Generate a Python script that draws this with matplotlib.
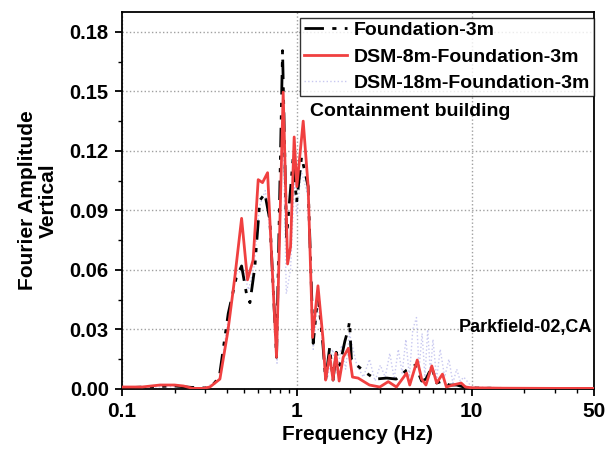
import matplotlib
matplotlib.use("Agg")
import matplotlib.pyplot as plt
from matplotlib.ticker import FixedLocator, NullFormatter, MultipleLocator

plt.rcParams["font.family"] = ["Liberation Sans", "DejaVu Sans"]
plt.rcParams["font.weight"] = "bold"

# Foundation-3m (black dash-dot-dot)
f_found = [0.1, 0.15, 0.2, 0.25, 0.3, 0.33, 0.36, 0.405, 0.45, 0.483, 0.515, 0.539, 0.575,
           0.614, 0.656, 0.701, 0.765, 0.828, 0.873, 0.953, 0.996, 1.064, 1.16, 1.24, 1.32,
           1.41, 1.46, 1.54, 1.61, 1.68, 1.76, 1.88, 1.97, 2.0, 2.05, 2.2, 2.5, 2.8, 3.27,
           3.7, 4.24, 4.75, 5.17, 5.47, 5.9, 6.3, 6.8, 7.4, 8.2, 9.0, 10.0, 15.0, 30.0, 50.0]
a_found = [0.0005, 0.0012, 0.0015, 0.0008, 0.0005, 0.002, 0.006, 0.038, 0.056, 0.062, 0.048,
           0.0435, 0.0615, 0.095, 0.0985, 0.085, 0.016, 0.1705, 0.0766, 0.117, 0.094, 0.117,
           0.102, 0.023, 0.048, 0.022, 0.0045, 0.021, 0.0045, 0.0185, 0.012, 0.024, 0.0305,
           0.034, 0.015, 0.012, 0.008, 0.005, 0.0055, 0.005, 0.0095, 0.012, 0.004, 0.005,
           0.011, 0.003, 0.004, 0.002, 0.002, 0.001, 0.0005, 0.0003, 0.0002, 0.0002]

# DSM-8m-Foundation-3m (red)
f_dsm8 = [0.1, 0.13, 0.165, 0.2, 0.225, 0.254, 0.29, 0.318, 0.363, 0.403, 0.442, 0.483,
          0.522, 0.562, 0.601, 0.636, 0.68, 0.765, 0.835, 0.885, 0.92, 0.965, 1.0, 1.087,
          1.16, 1.23, 1.32, 1.41, 1.46, 1.54, 1.61, 1.67, 1.745, 1.84, 1.97, 2.08, 2.24,
          2.6, 2.98, 3.33, 3.71, 4.24, 4.42, 4.88, 5.17, 5.47, 5.91, 6.3, 6.8, 7.16, 7.8,
          8.7, 9.2, 10.0, 15.0, 30.0, 50.0]
a_dsm8 = [0.001, 0.001, 0.002, 0.002, 0.0015, 0.0003, 0.0003, 0.001, 0.005, 0.029, 0.0565,
          0.086, 0.055, 0.065, 0.1055, 0.104, 0.109, 0.016, 0.1496, 0.063, 0.0716, 0.127,
          0.102, 0.135, 0.102, 0.026, 0.052, 0.0255, 0.0045, 0.017, 0.0045, 0.018, 0.004,
          0.016, 0.0205, 0.006, 0.0055, 0.002, 0.001, 0.0037, 0.001, 0.008, 0.002, 0.0146,
          0.005, 0.002, 0.0116, 0.003, 0.0075, 0.001, 0.002, 0.003, 0.001, 0.0006, 0.0004,
          0.0003, 0.0003]

# DSM-18m-Foundation-3m (light lavender dotted)
f_dsm18 = [0.1, 0.15, 0.2, 0.25, 0.3, 0.36, 0.405, 0.45, 0.49, 0.53, 0.57, 0.61, 0.66, 0.7,
           0.77, 0.83, 0.87, 0.92, 0.97, 1.0, 1.06, 1.15, 1.24, 1.32, 1.42, 1.5, 1.6, 1.7,
           1.8, 1.9, 2.0, 2.2, 2.4, 2.6, 2.8, 3.0, 3.2, 3.4, 3.6, 3.8, 4.0, 4.2, 4.4, 4.6,
           4.83, 5.0, 5.2, 5.4, 5.6, 5.8, 6.0, 6.3, 6.6, 7.0, 7.4, 7.8, 8.2, 8.6, 9.0, 10.0,
           20.0, 50.0]
a_dsm18 = [0.0005, 0.001, 0.0012, 0.0006, 0.0005, 0.005, 0.035, 0.058, 0.06, 0.05, 0.062,
           0.092, 0.1, 0.08, 0.013, 0.14, 0.048, 0.06, 0.105, 0.088, 0.11, 0.098, 0.02,
           0.045, 0.018, 0.006, 0.02, 0.008, 0.022, 0.01, 0.028, 0.012, 0.006, 0.015, 0.004,
           0.012, 0.006, 0.018, 0.005, 0.02, 0.008, 0.025, 0.006, 0.03, 0.036, 0.01, 0.028,
           0.006, 0.03, 0.008, 0.025, 0.005, 0.02, 0.006, 0.015, 0.003, 0.01, 0.004, 0.006,
           0.001, 0.0003, 0.0002]

x_ticks = [0.1, 1, 10, 50]
x_labels = ["0.1", "1", "10", "50"]

fig = plt.figure(figsize=(6.13, 4.54), dpi=100)
ax = fig.add_axes([0.199, 0.1432, 0.77, 0.8304])

ax.plot(f_found, a_found, color="black", lw=2, dashes=(7, 3, 1.5, 3, 1.5, 3),
        label="Foundation-3m", zorder=3)
ax.plot(f_dsm8, a_dsm8, color="#f04040", lw=2, label="DSM-8m-Foundation-3m", zorder=4)
ax.plot(f_dsm18, a_dsm18, color="#c8c8f0", lw=1, ls=":", label="DSM-18m-Foundation-3m",
        zorder=2)

ax.set_xscale("log")
ax.set_xlim(0.1, 50)
ax.set_ylim(0, 0.19)
ax.xaxis.set_major_locator(FixedLocator(x_ticks))
ax.set_xticklabels(x_labels)
ax.xaxis.set_minor_locator(FixedLocator(
    [m * d for d in (0.1, 1, 10) for m in range(2, 10) if m * d < 50]))
ax.xaxis.set_minor_formatter(NullFormatter())
ax.yaxis.set_major_locator(MultipleLocator(0.03))
ax.yaxis.set_minor_locator(MultipleLocator(0.015))
ax.yaxis.set_major_formatter(plt.FuncFormatter(lambda v, p: f"{v:.2f}"))

ax.tick_params(which="major", direction="out", length=5, width=1.3, pad=4.5)
ax.tick_params(axis="x", which="major", labelsize=15)
ax.tick_params(axis="y", which="major", labelsize=14.5)
ax.tick_params(which="minor", direction="out", length=3, width=1)
for s in ax.spines.values():
    s.set_linewidth(1.3)

ax.grid(True, which="major", color="#a0a0a0", ls=":", lw=1)
ax.set_axisbelow(True)

ax.set_xlabel("Frequency (Hz)", fontsize=15, fontweight="bold", labelpad=3)
ax.set_ylabel("Fourier Amplitude\nVertical", fontsize=15, fontweight="bold",
              linespacing=1.15)
ax.yaxis.set_label_coords(-0.136, 0.5)

leg = ax.legend(loc="upper right", bbox_to_anchor=(1.0, 0.985), fontsize=14,
                frameon=True, fancybox=False, edgecolor="black", handlelength=2.2,
                borderpad=0.2, labelspacing=0.45, handletextpad=0.35, borderaxespad=0)
leg.get_frame().set_linewidth(1)
for t in leg.get_texts():
    t.set_fontweight("bold")

ax.text(0.398, 0.735, "Containment building", transform=ax.transAxes, fontsize=14,
        fontweight="bold", va="center")
ax.text(0.995, 0.164, "Parkfield-02,CA", transform=ax.transAxes, fontsize=13,
        fontweight="bold", ha="right", va="center")

fig.savefig("out.png", dpi=100)
